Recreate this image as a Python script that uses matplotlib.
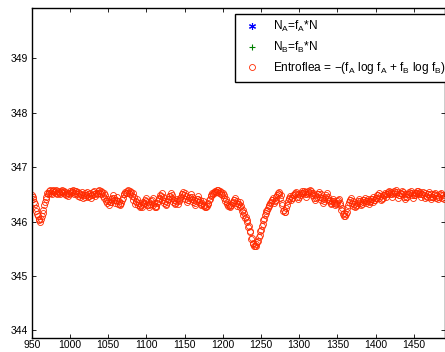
import numpy as np
import matplotlib.pyplot as plt

plt.rcParams['font.family'] = ['Liberation Sans', 'DejaVu Sans']
plt.rcParams['mathtext.fontset'] = 'custom'
plt.rcParams['mathtext.rm'] = 'Liberation Sans'
plt.rcParams['mathtext.it'] = 'Liberation Sans:italic'

# entropy curve: upper part of the band at even x
x_even = np.arange(950, 1491, 2)
entroflea_even = [
    346.48, 346.42, 346.32, 346.20, 346.10,  # 950
    346.02, 346.05, 346.15, 346.30, 346.42,  # 960
    346.52, 346.56, 346.58, 346.57, 346.58,  # 970
    346.56, 346.58, 346.57, 346.55, 346.57,  # 980
    346.58, 346.56, 346.55, 346.52, 346.53,  # 990
    346.56, 346.57, 346.58, 346.56, 346.57,  # 1000
    346.55, 346.52, 346.50, 346.54, 346.49,  # 1010
    346.52, 346.55, 346.50, 346.53, 346.49,  # 1020
    346.54, 346.56, 346.52, 346.57, 346.58,  # 1030
    346.57, 346.55, 346.52, 346.48, 346.42,  # 1040
    346.38, 346.36, 346.42, 346.48, 346.44,  # 1050
    346.40, 346.45, 346.38, 346.33, 346.40,  # 1060
    346.50, 346.55, 346.57, 346.58, 346.57,  # 1070
    346.55, 346.52, 346.45, 346.38, 346.42,  # 1080
    346.35, 346.28, 346.26, 346.33, 346.40,  # 1090
    346.43, 346.36, 346.30, 346.38, 346.44,  # 1100
    346.35, 346.27, 346.34, 346.42, 346.48,  # 1110
    346.52, 346.45, 346.38, 346.33, 346.41,  # 1120
    346.47, 346.53, 346.48, 346.40, 346.35,  # 1130
    346.42, 346.38, 346.44, 346.50, 346.55,  # 1140
    346.52, 346.47, 346.40, 346.44, 346.50,  # 1150
    346.46, 346.40, 346.35, 346.42, 346.47,  # 1160
    346.40, 346.33, 346.38, 346.30, 346.26,  # 1170
    346.32, 346.40, 346.47, 346.52, 346.55,  # 1180
    346.57, 346.58, 346.58, 346.57, 346.55,  # 1190
    346.52, 346.48, 346.42, 346.36, 346.30,  # 1200
    346.28, 346.34, 346.40, 346.44, 346.38,  # 1210
    346.32, 346.36, 346.28, 346.22, 346.15,  # 1220
    346.08, 346.02, 345.92, 345.82, 345.70,  # 1230
    345.60, 345.56, 345.58, 345.65, 345.75,  # 1240
    345.85, 345.95, 346.05, 346.15, 346.22,  # 1250
    346.28, 346.35, 346.40, 346.44, 346.38,  # 1260
    346.45, 346.52, 346.55, 346.48, 346.35,  # 1270
    346.22, 346.18, 346.30, 346.42, 346.47,  # 1280
    346.43, 346.48, 346.52, 346.55, 346.50,  # 1290
    346.45, 346.52, 346.56, 346.57, 346.54,  # 1300
    346.50, 346.56, 346.58, 346.57, 346.53,  # 1310
    346.48, 346.44, 346.50, 346.55, 346.50,  # 1320
    346.44, 346.38, 346.45, 346.52, 346.46,  # 1330
    346.40, 346.35, 346.42, 346.38, 346.33,  # 1340
    346.38, 346.42, 346.35, 346.25, 346.15,  # 1350
    346.11, 346.18, 346.30, 346.40, 346.44,  # 1360
    346.38, 346.32, 346.28, 346.35, 346.42,  # 1370
    346.38, 346.33, 346.40, 346.44, 346.38,  # 1380
    346.42, 346.36, 346.41, 346.45, 346.40,  # 1390
    346.44, 346.48, 346.52, 346.47, 346.42,  # 1400
    346.48, 346.53, 346.50, 346.55, 346.57,  # 1410
    346.55, 346.50, 346.56, 346.58, 346.54,  # 1420
    346.48, 346.52, 346.57, 346.55, 346.50,  # 1430
    346.45, 346.50, 346.54, 346.56, 346.52,  # 1440
    346.48, 346.53, 346.56, 346.57, 346.54,  # 1450
    346.50, 346.55, 346.52, 346.47, 346.50,  # 1460
    346.54, 346.50, 346.46, 346.50, 346.53,  # 1470
    346.48, 346.45, 346.50, 346.53, 346.48,  # 1480
    346.46,                                  # 1490
]
# lower part of the band at odd x
x_odd = np.arange(951, 1490, 2)
entroflea_odd = [
    346.45, 346.36, 346.25, 346.14, 346.05,  # 951
    346.00, 346.10, 346.22, 346.36, 346.46,  # 961
    346.50, 346.52, 346.53, 346.51, 346.54,  # 971
    346.52, 346.50, 346.53, 346.51, 346.54,  # 981
    346.52, 346.50, 346.48, 346.47, 346.50,  # 991
    346.52, 346.54, 346.51, 346.53, 346.50,  # 1001
    346.47, 346.45, 346.48, 346.44, 346.46,  # 1011
    346.49, 346.45, 346.47, 346.44, 346.48,  # 1021
    346.50, 346.47, 346.51, 346.53, 346.52,  # 1031
    346.50, 346.47, 346.43, 346.38, 346.34,  # 1041
    346.31, 346.36, 346.43, 346.40, 346.35,  # 1051
    346.38, 346.33, 346.30, 346.34, 346.44,  # 1061
    346.50, 346.52, 346.53, 346.52, 346.50,  # 1071
    346.47, 346.40, 346.33, 346.36, 346.30,  # 1081
    346.26, 346.30, 346.36, 346.34, 346.38,  # 1091
    346.31, 346.27, 346.33, 346.39, 346.30,  # 1101
    346.26, 346.29, 346.37, 346.43, 346.47,  # 1111
    346.40, 346.34, 346.30, 346.36, 346.42,  # 1121
    346.47, 346.43, 346.36, 346.32, 346.37,  # 1131
    346.33, 346.39, 346.45, 346.50, 346.48,  # 1141
    346.42, 346.36, 346.39, 346.45, 346.42,  # 1151
    346.36, 346.31, 346.37, 346.42, 346.36,  # 1161
    346.30, 346.34, 346.28, 346.26, 346.28,  # 1171
    346.35, 346.42, 346.48, 346.51, 346.53,  # 1181
    346.54, 346.55, 346.53, 346.51, 346.48,  # 1191
    346.44, 346.38, 346.32, 346.28, 346.27,  # 1201
    346.30, 346.36, 346.40, 346.34, 346.29,  # 1211
    346.32, 346.26, 346.20, 346.12, 346.06,  # 1221
    346.00, 345.90, 345.80, 345.68, 345.58,  # 1231
    345.55, 345.56, 345.62, 345.72, 345.82,  # 1241
    345.92, 346.02, 346.12, 346.20, 346.25,  # 1251
    346.31, 346.36, 346.40, 346.34, 346.40,  # 1261
    346.48, 346.51, 346.44, 346.30, 346.20,  # 1271
    346.17, 346.25, 346.38, 346.44, 346.40,  # 1281
    346.44, 346.48, 346.51, 346.46, 346.42,  # 1291
    346.48, 346.52, 346.53, 346.50, 346.46,  # 1301
    346.52, 346.54, 346.53, 346.49, 346.44,  # 1311
    346.40, 346.46, 346.51, 346.46, 346.40,  # 1321
    346.35, 346.41, 346.48, 346.42, 346.37,  # 1331
    346.32, 346.38, 346.34, 346.30, 346.34,  # 1341
    346.39, 346.31, 346.22, 346.13, 346.10,  # 1351
    346.14, 346.25, 346.36, 346.40, 346.34,  # 1361
    346.29, 346.26, 346.31, 346.38, 346.34,  # 1371
    346.30, 346.36, 346.40, 346.34, 346.38,  # 1381
    346.32, 346.37, 346.41, 346.36, 346.40,  # 1391
    346.44, 346.48, 346.43, 346.39, 346.44,  # 1401
    346.49, 346.46, 346.51, 346.53, 346.51,  # 1411
    346.46, 346.52, 346.54, 346.50, 346.44,  # 1421
    346.48, 346.53, 346.51, 346.46, 346.42,  # 1431
    346.46, 346.50, 346.52, 346.48, 346.44,  # 1441
    346.49, 346.52, 346.53, 346.50, 346.46,  # 1451
    346.51, 346.48, 346.43, 346.46, 346.50,  # 1461
    346.46, 346.42, 346.46, 346.49, 346.44,  # 1471
    346.41, 346.46, 346.49, 346.44, 346.42,  # 1481
]
# the N_A / N_B series lie outside the visible range, only their legend entries show
n_a = []
n_b = []

x_ticks = [950, 1000, 1050, 1100, 1150, 1200, 1250, 1300, 1350, 1400, 1450]
y_ticks = [344, 345, 346, 347, 348, 349]

x_all = np.concatenate([x_even, x_odd])
y_all = np.concatenate([entroflea_even, entroflea_odd])
order = np.argsort(x_all)

fig = plt.figure(figsize=(4.45, 3.52), dpi=100)
ax = fig.add_axes([0.0715, 0.041, 0.9275, 0.936])

ax.plot(n_a, n_a, linestyle='none', marker=(6, 2, 0), color='#0000ff',
        markersize=5, markeredgewidth=0.8, label=r'N$_\mathrm{A}$=f$_\mathrm{A}$*N')
ax.plot(n_b, n_b, linestyle='none', marker='+', color='#008000',
        markersize=5, markeredgewidth=0.8, label=r'N$_\mathrm{B}$=f$_\mathrm{B}$*N')
ax.plot(x_all[order], y_all[order], linestyle='none', marker='o', markerfacecolor='none',
        markeredgecolor='#ff2a00', markersize=4.3, markeredgewidth=0.6,
        label=r'Entroflea = −(f$_\mathrm{A}$ log f$_\mathrm{A}$ + f$_\mathrm{B}$ log f$_\mathrm{B}$)')

ax.set_xlim(950, 1490.2)
ax.set_ylim(343.87, 349.92)
ax.set_xticks(x_ticks)
ax.set_yticks(y_ticks)
ax.tick_params(direction='in', top=True, right=True, length=3, width=0.6,
               labelsize=7.5, pad=2)
ax.tick_params(axis='y', pad=3)
for s in ax.spines.values():
    s.set_linewidth(1.0)

leg = ax.legend(loc='upper left', bbox_to_anchor=(235 / 445, 1 - 14 / 352),
                bbox_transform=fig.transFigure, fontsize=8.6, frameon=True,
                fancybox=False, framealpha=1, edgecolor='black',
                handlelength=2.0, handletextpad=0.7, labelspacing=0.45,
                borderpad=0.45, borderaxespad=0)
leg.get_frame().set_linewidth(1.0)

fig.savefig('out.png', dpi=100)
